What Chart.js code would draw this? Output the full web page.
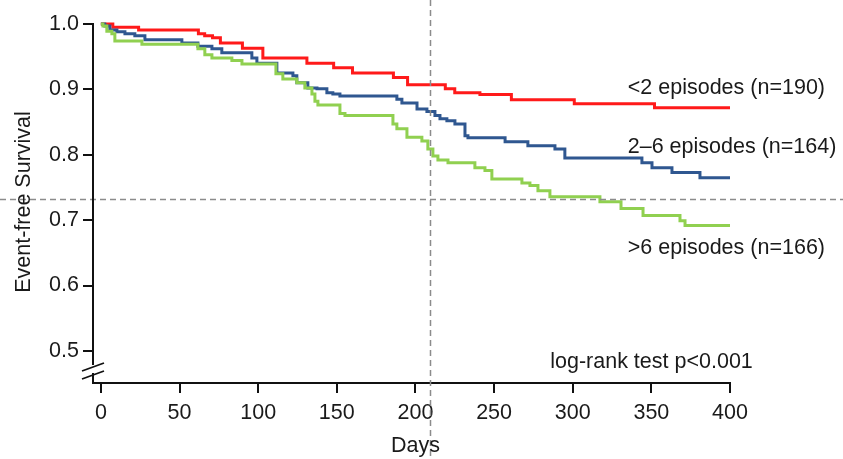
<!DOCTYPE html>
<html>
<head>
<meta charset="utf-8">
<script src="https://cdn.jsdelivr.net/npm/chart.js@4.4.1/dist/chart.umd.min.js"></script>
<style>
  html, body { margin: 0; padding: 0; background: #ffffff; }
  #wrap { width: 843px; height: 459px; }
</style>
</head>
<body>
<div id="wrap"><canvas id="c" width="843" height="459"></canvas></div>
<script>
// ---- data ----
const xTicks = [0, 50, 100, 150, 200, 250, 300, 350, 400];
const yTicks = [0.5, 0.6, 0.7, 0.8, 0.9, 1.0];

const redDays = [0, 7.6, 24, 62, 66, 71, 76, 90, 103, 131, 148, 160, 186, 195, 219, 225, 241, 261, 301, 352, 400];
const redSurv = [1.0, 0.995, 0.991, 0.985, 0.982, 0.979, 0.971, 0.963, 0.948, 0.940, 0.933, 0.925, 0.918, 0.907, 0.901, 0.895, 0.892, 0.884, 0.878, 0.872, 0.872];

const blueDays = [0, 2.5, 5.7, 10.2, 15.3, 21.6, 28, 51.5, 61.7, 70.6, 76.9, 96, 99.2, 111.9, 122.1, 124.6, 131.6, 137.4, 143.7, 147.5, 152, 188.2, 191.4, 201, 207.3, 212.4, 215.6, 220, 225.1, 231.5, 233.4, 257, 271.5, 288.7, 295, 344, 350.4, 363.1, 380.9, 400];
const blueSurv = [1.0, 0.997, 0.991, 0.988, 0.985, 0.982, 0.976, 0.971, 0.966, 0.962, 0.956, 0.948, 0.940, 0.925, 0.921, 0.910, 0.902, 0.901, 0.895, 0.893, 0.890, 0.885, 0.879, 0.870, 0.866, 0.860, 0.855, 0.852, 0.847, 0.829, 0.826, 0.820, 0.814, 0.809, 0.795, 0.788, 0.780, 0.773, 0.765, 0.765];

const greenDays = [0, 1.3, 3.8, 7, 8.9, 26.1, 61.7, 66.1, 70.6, 83.3, 89.7, 111.3, 115.7, 124.6, 129.7, 134.2, 136.1, 138, 152, 155.2, 185.7, 188.2, 194.6, 204.1, 207.9, 211.1, 214.3, 220.7, 237.8, 244.2, 248.6, 267.7, 272.8, 277.9, 285.5, 317.3, 330.7, 344.7, 368.2, 371.4, 400];
const greenSurv = [1.0, 0.997, 0.989, 0.985, 0.974, 0.969, 0.962, 0.953, 0.948, 0.944, 0.939, 0.924, 0.916, 0.910, 0.902, 0.893, 0.882, 0.876, 0.863, 0.860, 0.847, 0.840, 0.827, 0.821, 0.809, 0.798, 0.792, 0.788, 0.780, 0.776, 0.763, 0.757, 0.753, 0.745, 0.736, 0.728, 0.718, 0.707, 0.699, 0.692, 0.692];

const seriesNames = ['<2 episodes (n=190)', '2\u20136 episodes (n=164)', '>6 episodes (n=166)'];
const seriesColors = ['#ff1a1a', '#2f5790', '#90d050'];

// reference (dashed) lines
const refDay = 209;
const refSurv = 0.733;

// text labels anchored in data units: [text, day (left edge), survival (centre)]
const labelTexts = [seriesNames[0], seriesNames[1], seriesNames[2], 'log-rank test p<0.001'];
const labelDays = [335, 335, 335, 414.5];
const labelSurvs = [0.902, 0.812, 0.657, 0.483];
const labelAlign = ['left', 'left', 'left', 'right'];

const xTitle = 'Days';
const yTitle = 'Event-free Survival';

// ---- build ----
const FONT = '"Liberation Sans", Arial, sans-serif';
const FS = 21.5;

function pts(xs, ys) { return xs.map((x, i) => ({ x: x, y: ys[i] })); }

const datasets = [
  { label: seriesNames[0], data: pts(redDays, redSurv), borderColor: seriesColors[0] },
  { label: seriesNames[1], data: pts(blueDays, blueSurv), borderColor: seriesColors[1] },
  { label: seriesNames[2], data: pts(greenDays, greenSurv), borderColor: seriesColors[2] }
].map(d => Object.assign(d, {
  stepped: true, borderWidth: 3, pointRadius: 0, fill: false, clip: false, tension: 0
}));
// draw order: green bottom, blue, red top
datasets.reverse();

const overlay = {
  id: 'overlay',
  afterDatasetsDraw(chart) {
    const ctx = chart.ctx;
    const xs = chart.scales.x, ys = chart.scales.y;
    const ca = chart.chartArea;
    ctx.save();
    // dashed reference lines spanning whole canvas
    ctx.strokeStyle = '#8c8c8c';
    ctx.lineWidth = 1.5;
    ctx.setLineDash([6, 4]);
    const vx = Math.round(xs.getPixelForValue(refDay)) + 0.5;
    ctx.beginPath(); ctx.moveTo(vx, 0); ctx.lineTo(vx, chart.height); ctx.stroke();
    const hy = Math.round(ys.getPixelForValue(refSurv)) + 0.5;
    ctx.beginPath(); ctx.moveTo(0, hy); ctx.lineTo(chart.width, hy); ctx.stroke();
    ctx.setLineDash([]);

    // y axis line with break marks
    ctx.strokeStyle = '#111';
    ctx.lineWidth = 2;
    const ax = ca.left;
    const breakTop = ca.bottom - 18, breakBot = ca.bottom - 10;
    ctx.beginPath();
    ctx.moveTo(ax, ca.top - 1); ctx.lineTo(ax, breakTop);
    ctx.moveTo(ax, breakBot); ctx.lineTo(ax, ca.bottom);
    ctx.stroke();
    ctx.lineWidth = 1.8;
    ctx.beginPath();
    ctx.moveTo(ax - 11, breakTop + 6); ctx.lineTo(ax + 11, breakTop - 2);
    ctx.moveTo(ax - 11, breakBot + 6); ctx.lineTo(ax + 11, breakBot - 2);
    ctx.stroke();

    // text labels
    ctx.fillStyle = '#1a1a1a';
    ctx.font = FS + 'px ' + FONT;
    ctx.textBaseline = 'middle';
    labelTexts.forEach((t, i) => {
      ctx.textAlign = labelAlign[i];
      ctx.fillText(t, xs.getPixelForValue(labelDays[i]), ys.getPixelForValue(labelSurvs[i]));
    });

    // axis titles
    ctx.textAlign = 'center';
    ctx.fillText(xTitle, xs.getPixelForValue(200), 446);
    ctx.save();
    ctx.translate(24, 202);
    ctx.rotate(-Math.PI / 2);
    ctx.fillText(yTitle, 0, 0);
    ctx.restore();
    ctx.restore();
  }
};

new Chart(document.getElementById('c'), {
  type: 'line',
  data: { datasets: datasets },
  options: {
    responsive: false,
    animation: false,
    events: [],
    layout: { padding: { left: 0, right: 113, top: 24, bottom: 0 } },
    plugins: { legend: { display: false }, tooltip: { enabled: false } },
    scales: {
      x: {
        type: 'linear', min: -5, max: 400,
        afterBuildTicks: s => { s.ticks = xTicks.map(v => ({ value: v })); },
        afterFit: s => { s.height = 76; },
        grid: { display: true, drawOnChartArea: false, drawTicks: true, tickLength: 10, color: '#111', lineWidth: 2 },
        border: { display: true, color: '#111', width: 2 },
        ticks: { color: '#1a1a1a', font: { family: FONT, size: FS }, padding: 7, maxRotation: 0, autoSkip: false,
                 callback: v => String(v) }
      },
      y: {
        type: 'linear', min: 0.451, max: 1.0,
        afterBuildTicks: s => { s.ticks = yTicks.map(v => ({ value: v })); },
        afterFit: s => { s.width = 93; },
        grid: { display: true, drawOnChartArea: false, drawTicks: true, tickLength: 10, color: '#111', lineWidth: 2 },
        border: { display: false },
        ticks: { color: '#1a1a1a', font: { family: FONT, size: FS }, padding: 4, autoSkip: false,
                 callback: v => Number(v).toFixed(1) }
      }
    }
  },
  plugins: [overlay]
});
</script>
</body>
</html>
